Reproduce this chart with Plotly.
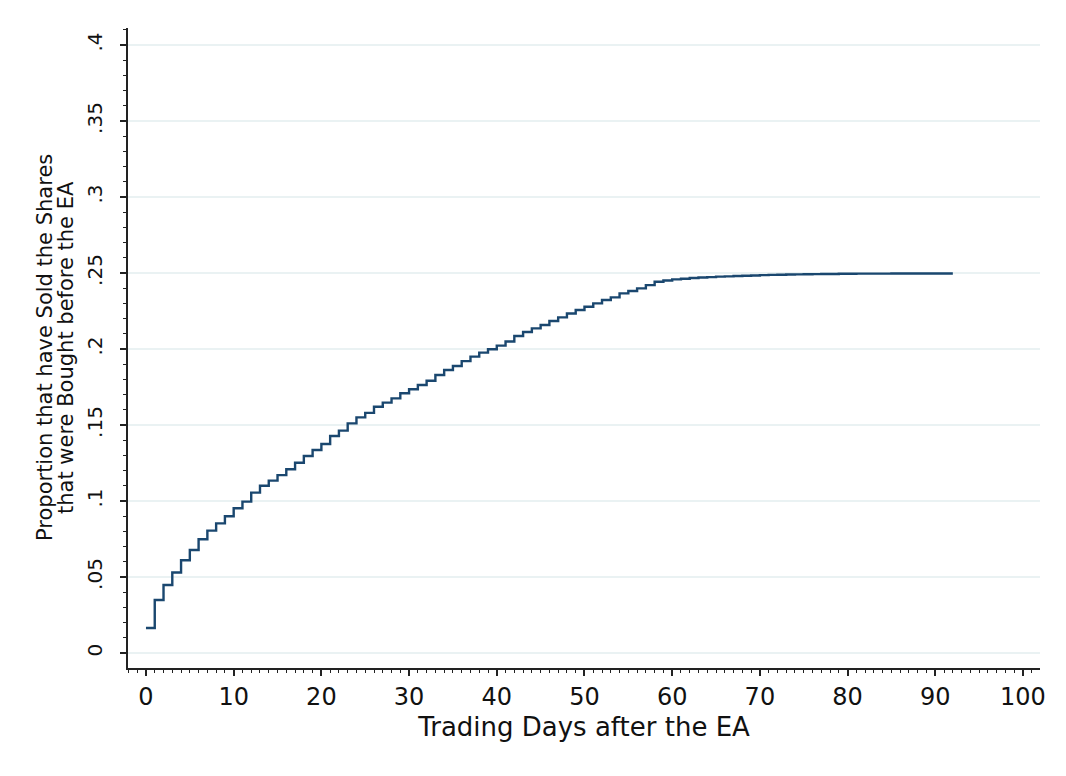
import plotly.graph_objects as go

days = list(range(0, 93))
proportion = [
    0.0164, 0.0349, 0.0447, 0.0530, 0.0610, 0.0678, 0.0748, 0.0805, 0.0853, 0.0900,
    0.0952, 0.0996, 0.1055, 0.1100, 0.1134, 0.1170, 0.1209, 0.1252, 0.1296, 0.1336,
    0.1375, 0.1428, 0.1463, 0.1511, 0.1550, 0.1580, 0.1620, 0.1647, 0.1675, 0.1709,
    0.1735, 0.1763, 0.1791, 0.1829, 0.1862, 0.1888, 0.1920, 0.1950, 0.1976, 0.1998,
    0.2022, 0.2049, 0.2086, 0.2112, 0.2136, 0.2158, 0.2184, 0.2208, 0.2234, 0.2257,
    0.2278, 0.2300, 0.2322, 0.2340, 0.2366, 0.2382, 0.2399, 0.2420, 0.2443, 0.2451,
    0.2458, 0.2462, 0.2467, 0.2470, 0.2473, 0.2476, 0.2478, 0.2480, 0.2482, 0.2484,
    0.2486, 0.2488, 0.2489, 0.2490, 0.2491, 0.2492, 0.2493, 0.2494, 0.2494, 0.2495,
    0.2495, 0.2496, 0.2496, 0.2496, 0.2496, 0.2497, 0.2497, 0.2497, 0.2497, 0.2497,
    0.2497, 0.2497, 0.2497,
]

x_ticks = [0, 10, 20, 30, 40, 50, 60, 70, 80, 90, 100]
y_ticks = [0, 0.05, 0.1, 0.15, 0.2, 0.25, 0.3, 0.35, 0.4]
y_tick_labels = ["0", ".05", ".1", ".15", ".2", ".25", ".3", ".35", ".4"]

x_title = "Trading Days after the EA"
y_title_lines = ["Proportion that have Sold the Shares", "that were Bought before the EA"]

FONT = "DejaVu Sans"
LINE = "#1a476f"
AX = "#222222"

# page has an 8px body margin; figure sized to fit the 1066x776 window
W, H = 1058, 768
L, T, R, B = 120, 20, 26, 108
PW = W - L - R

fig = go.Figure()
fig.add_trace(go.Scatter(
    x=days, y=proportion, mode="lines", line_shape="hv",
    line=dict(color=LINE, width=2.4), showlegend=False, hoverinfo="x+y",
))

fig.update_layout(
    width=W, height=H,
    margin=dict(l=L, r=R, t=T, b=B, autoexpand=False),
    paper_bgcolor="white", plot_bgcolor="white",
    font=dict(family=FONT, color="#111111"),
    xaxis=dict(
        range=[-2.05, 101.94], tickvals=x_ticks, ticks="outside", ticklen=6,
        tickwidth=1.5, tickcolor=AX, showline=True, linecolor=AX, linewidth=1.5,
        showgrid=False, zeroline=False, tickfont=dict(size=24, family=FONT),
        minor=dict(dtick=1, ticks="outside", ticklen=3, tickwidth=1, tickcolor=AX, showgrid=False),
        title=dict(text=x_title, font=dict(size=26, family=FONT), standoff=8),
    ),
    yaxis=dict(
        range=[-0.00987, 0.4112], tickvals=y_ticks, ticktext=y_tick_labels,
        tickangle=-90, ticks="outside", ticklen=6, tickwidth=1.5, tickcolor=AX,
        showline=True, linecolor=AX, linewidth=1.5, ticklabelstandoff=10,
        showgrid=True, gridcolor="#eaf2f3", gridwidth=1.5, zeroline=False,
        tickfont=dict(size=20, family=FONT),
        minor=dict(dtick=0.01, ticks="outside", ticklen=3, tickwidth=1, tickcolor=AX, showgrid=False),
    ),
)

# two-line y-axis title with tight (Stata-like) line spacing
for text, px in zip(y_title_lines, [37, 58]):
    fig.add_annotation(
        text=text, textangle=-90, showarrow=False,
        xref="paper", yref="paper", x=(px - L) / PW, y=0.5,
        xanchor="center", yanchor="middle",
        font=dict(size=21, family=FONT, color="#111111"),
    )

fig.write_html("out.html")
